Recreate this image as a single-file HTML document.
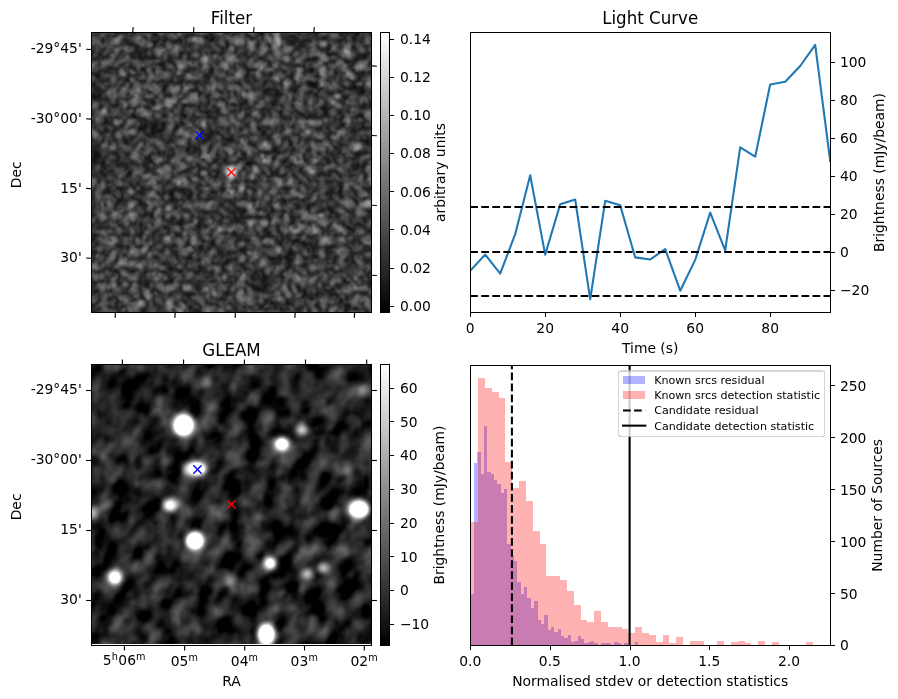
<!DOCTYPE html>
<html><head><meta charset="utf-8"><title>Figure</title>
<style>html,body{margin:0;padding:0;background:#fff;overflow:hidden}svg{display:block;will-change:transform}g[id^="patch"]>path{shape-rendering:crispEdges}</style>
</head><body>
<svg width="898" height="699" viewBox="0 0 646.56 503.28" version="1.1">
 
 <defs>
  <style type="text/css">*{stroke-linejoin: round; stroke-linecap: butt}</style>
 </defs>
 <g id="figure_1">
  <g id="patch_1">
   <path d="M 0 503.28 L 646.56 503.28 L 646.56 0 L 0 0 z
" style="fill: #ffffff"/>
  </g>
  <g id="axes_1">
   <g id="patch_2">
    <path d="M 65.88 225 L 267.48 225 L 267.48 23.4 L 65.88 23.4 z
" style="fill: #ffffff"/>
   </g>
   <g id="IMGFILTER" transform="scale(0.72)"><defs><filter id="fF" x="91.5" y="32.5" width="280" height="280" filterUnits="userSpaceOnUse" primitiveUnits="userSpaceOnUse" color-interpolation-filters="sRGB"><feTurbulence type="turbulence" baseFrequency="0.085" numOctaves="3" seed="7" result="t"/><feTurbulence type="turbulence" baseFrequency="0.11" numOctaves="2" seed="19" result="n"/><feComposite in="t" in2="n" operator="arithmetic" k1="0" k2="0.5" k3="0.5" k4="0"/><feGaussianBlur stdDeviation="1.0"/><feColorMatrix type="matrix" values="1.008 0 0 0 -0.032 1.008 0 0 0 -0.032 1.008 0 0 0 -0.032 0 0 0 0 1"/></filter><filter id="bF" x="-2" y="-2" width="5" height="5"><feGaussianBlur stdDeviation="1.6"/></filter><filter id="bF2" x="-2" y="-2" width="5" height="5"><feGaussianBlur stdDeviation="4"/></filter><clipPath id="cF"><rect x="91.5" y="32.5" width="280" height="280"/></clipPath></defs><g clip-path="url(#cF)"><rect x="91.5" y="32.5" width="280" height="280" fill="#000" filter="url(#fF)"/><ellipse cx="158" cy="129" rx="9" ry="9" fill="#000" fill-opacity="0.55" filter="url(#bF2)"/><ellipse cx="231.3" cy="172" rx="5.5" ry="6" fill="#d4d4d4" filter="url(#bF)"/></g></g>
   <g id="matplotlib.axis_1"/>
   <g id="matplotlib.axis_2"/>
   <g id="patch_3">
    <path d="M 65.88 225 L 65.88 23.4 
" style="fill: none; stroke: #000000; stroke-width: 0.8; stroke-linejoin: miter; stroke-linecap: square"/>
   </g>
   <g id="patch_4">
    <path d="M 267.48 225 L 267.48 23.4 
" style="fill: none; stroke: #000000; stroke-width: 0.8; stroke-linejoin: miter; stroke-linecap: square"/>
   </g>
   <g id="patch_5">
    <path d="M 65.88 225 L 267.48 225 
" style="fill: none; stroke: #000000; stroke-width: 0.8; stroke-linejoin: miter; stroke-linecap: square"/>
   </g>
   <g id="patch_6">
    <path d="M 65.88 23.4 L 267.48 23.4 
" style="fill: none; stroke: #000000; stroke-width: 0.8; stroke-linejoin: miter; stroke-linecap: square"/>
   </g>
   <g id="text_1">
    <text style="font-size: 12px; font-family: 'DejaVu Sans', 'Liberation Sans', sans-serif; text-anchor: middle" x="166.68" y="17.4" transform="translate(166.68 17.4) scale(1 1.07) translate(-166.68 -17.4)">Filter</text>
   </g>
  </g>
  <g id="axes_2">
   <g id="patch_7">
    <path d="M 65.88 464.544 L 267.48 464.544 L 267.48 262.656 L 65.88 262.656 z
" style="fill: #ffffff"/>
   </g>
   <g id="IMGGLEAM" transform="scale(0.72)"><defs><clipPath id="cG"><rect x="91.5" y="364.8" width="280" height="279.1"/></clipPath><filter id="fG" x="21.5" y="295" width="420" height="420" filterUnits="userSpaceOnUse" primitiveUnits="userSpaceOnUse" color-interpolation-filters="sRGB"><feTurbulence type="fractalNoise" baseFrequency="0.045 0.065" numOctaves="3" seed="11"/><feGaussianBlur stdDeviation="1.5"/><feColorMatrix type="matrix" values="1 0 0 0 0 1 0 0 0 0 1 0 0 0 0 0 0 0 0 1"/></filter><filter id="fG2" x="91.5" y="364.8" width="280" height="280" filterUnits="userSpaceOnUse" primitiveUnits="userSpaceOnUse" color-interpolation-filters="sRGB"><feTurbulence type="fractalNoise" baseFrequency="0.05" numOctaves="3" seed="5"/><feGaussianBlur stdDeviation="1.5"/><feColorMatrix type="matrix" values="1 0 0 0 0 1 0 0 0 0 1 0 0 0 0 0 0 0 0 1"/></filter><filter id="mG" x="91.5" y="364.8" width="280" height="280" filterUnits="userSpaceOnUse" color-interpolation-filters="sRGB"><feColorMatrix type="matrix" values="1.1 0 0 0 -0.415 1.1 0 0 0 -0.415 1.1 0 0 0 -0.415 0 0 0 0 1"/></filter><filter id="bG" x="-1" y="-1" width="3" height="3"><feGaussianBlur stdDeviation="3"/><feComponentTransfer><feFuncA type="linear" slope="2"/></feComponentTransfer></filter></defs><g clip-path="url(#cG)"><g filter="url(#mG)"><rect x="21.5" y="295" width="420" height="420" fill="#000" filter="url(#fG)" transform="rotate(-60 231.5 505)"/><rect x="91.5" y="364.8" width="280" height="280" fill="#000" filter="url(#fG2)" opacity="0.4"/></g><ellipse cx="183.6" cy="425.3" rx="9.7" ry="10.3" fill="#fff" fill-opacity="1.00" filter="url(#bG)"/><ellipse cx="302.1" cy="430.1" rx="5.5" ry="4.5" fill="#fff" fill-opacity="0.55" filter="url(#bG)"/><ellipse cx="281.9" cy="444.3" rx="6.6" ry="5.8" fill="#fff" fill-opacity="1.00" filter="url(#bG)"/><ellipse cx="196.5" cy="468.7" rx="9" ry="6" fill="#fff" fill-opacity="1.00" filter="url(#bG)"/><ellipse cx="188.5" cy="469" rx="4.5" ry="4.5" fill="#fff" fill-opacity="0.50" filter="url(#bG)"/><ellipse cx="170" cy="505.2" rx="5.5" ry="4" fill="#fff" fill-opacity="1.00" filter="url(#bG)" transform="rotate(-10 170 505.2)"/><ellipse cx="173" cy="505" rx="8" ry="5" fill="#fff" fill-opacity="0.30" filter="url(#bG)" transform="rotate(-10 173 505)"/><ellipse cx="358.8" cy="509.3" rx="9.6" ry="8" fill="#fff" fill-opacity="1.00" filter="url(#bG)"/><ellipse cx="195" cy="540.8" rx="8.4" ry="8.4" fill="#fff" fill-opacity="1.00" filter="url(#bG)"/><ellipse cx="270.1" cy="563.2" rx="4.8" ry="5.2" fill="#fff" fill-opacity="1.00" filter="url(#bG)"/><ellipse cx="114.8" cy="577.4" rx="6" ry="6" fill="#fff" fill-opacity="1.00" filter="url(#bG)"/><ellipse cx="307.1" cy="574.1" rx="5" ry="4" fill="#fff" fill-opacity="0.55" filter="url(#bG)"/><ellipse cx="323.1" cy="568.1" rx="5" ry="4" fill="#fff" fill-opacity="0.55" filter="url(#bG)"/><ellipse cx="229.8" cy="580.9" rx="4" ry="5" fill="#fff" fill-opacity="0.25" filter="url(#bG)"/><ellipse cx="266.4" cy="634.5" rx="7.6" ry="10.3" fill="#fff" fill-opacity="1.00" filter="url(#bG)"/><ellipse cx="207.2" cy="383" rx="4" ry="5" fill="#fff" fill-opacity="0.30" filter="url(#bG)"/><ellipse cx="253" cy="539" rx="5" ry="5" fill="#fff" fill-opacity="0.20" filter="url(#bG)"/><ellipse cx="92.3" cy="512.7" rx="3" ry="6" fill="#fff" fill-opacity="0.55" filter="url(#bG)"/><ellipse cx="363.2" cy="391" rx="4" ry="4" fill="#fff" fill-opacity="0.25" filter="url(#bG)"/></g></g>
   <g id="matplotlib.axis_3"/>
   <g id="matplotlib.axis_4"/>
   <g id="patch_8">
    <path d="M 65.88 464.544 L 65.88 262.656 
" style="fill: none; stroke: #000000; stroke-width: 0.8; stroke-linejoin: miter; stroke-linecap: square"/>
   </g>
   <g id="patch_9">
    <path d="M 267.48 464.544 L 267.48 262.656 
" style="fill: none; stroke: #000000; stroke-width: 0.8; stroke-linejoin: miter; stroke-linecap: square"/>
   </g>
   <g id="patch_10">
    <path d="M 65.88 464.544 L 267.48 464.544 
" style="fill: none; stroke: #000000; stroke-width: 0.8; stroke-linejoin: miter; stroke-linecap: square"/>
   </g>
   <g id="patch_11">
    <path d="M 65.88 262.656 L 267.48 262.656 
" style="fill: none; stroke: #000000; stroke-width: 0.8; stroke-linejoin: miter; stroke-linecap: square"/>
   </g>
   <g id="text_2">
    <text style="font-size: 12px; font-family: 'DejaVu Sans', 'Liberation Sans', sans-serif; text-anchor: middle" x="166.68" y="256.656" transform="translate(166.68 256.656) scale(1 1.07) translate(-166.68 -256.656)">GLEAM</text>
   </g>
  </g>
  <g id="axes_3">
   <g id="patch_12">
    <path d="M 274.032 225 L 280.44 225 L 280.44 23.4 L 274.032 23.4 z
" style="fill: #ffffff"/>
   </g>
   <g id="CBFILTER" transform="scale(0.72)"><defs><linearGradient id="gF" x1="0" y1="1" x2="0" y2="0"><stop offset="0" stop-color="#000"/><stop offset="1" stop-color="#fff"/></linearGradient></defs><rect x="380.6" y="32.50" width="8.9" height="280.00" fill="url(#gF)"/></g>
   <g id="matplotlib.axis_5"/>
   <g id="matplotlib.axis_6">
    <g id="ytick_1">
     <g id="line2d_1">
      <defs>
       <path id="m33c4ce201d" d="M 0 0 L 3.5 0 
" shape-rendering="crispEdges" style="stroke: #000000; stroke-width: 0.8"/>
      </defs>
      <g>
       <use href="#m33c4ce201d" x="280.44" y="220.6800" style="stroke: #000000; stroke-width: 0.8"/>
      </g>
     </g>
     <g id="text_3">
      <text style="font-size: 10px; font-family: 'DejaVu Sans', 'Liberation Sans', sans-serif; text-anchor: start" x="287.94" y="223.889212" transform="rotate(-0 287.94 223.889212)">0.00</text>
     </g>
    </g>
    <g id="ytick_2">
     <g id="line2d_2">
      <g>
       <use href="#m33c4ce201d" x="280.44" y="193.3200" style="stroke: #000000; stroke-width: 0.8"/>
      </g>
     </g>
     <g id="text_4">
      <text style="font-size: 10px; font-family: 'DejaVu Sans', 'Liberation Sans', sans-serif; text-anchor: start" x="287.94" y="196.428322" transform="rotate(-0 287.94 196.428322)">0.02</text>
     </g>
    </g>
    <g id="ytick_3">
     <g id="line2d_3">
      <g>
       <use href="#m33c4ce201d" x="280.44" y="165.2400" style="stroke: #000000; stroke-width: 0.8"/>
      </g>
     </g>
     <g id="text_5">
      <text style="font-size: 10px; font-family: 'DejaVu Sans', 'Liberation Sans', sans-serif; text-anchor: start" x="287.94" y="168.967433" transform="rotate(-0 287.94 168.967433)">0.04</text>
     </g>
    </g>
    <g id="ytick_4">
     <g id="line2d_4">
      <g>
       <use href="#m33c4ce201d" x="280.44" y="137.8800" style="stroke: #000000; stroke-width: 0.8"/>
      </g>
     </g>
     <g id="text_6">
      <text style="font-size: 10px; font-family: 'DejaVu Sans', 'Liberation Sans', sans-serif; text-anchor: start" x="287.94" y="141.506544" transform="rotate(-0 287.94 141.506544)">0.06</text>
     </g>
    </g>
    <g id="ytick_5">
     <g id="line2d_5">
      <g>
       <use href="#m33c4ce201d" x="280.44" y="110.5200" style="stroke: #000000; stroke-width: 0.8"/>
      </g>
     </g>
     <g id="text_7">
      <text style="font-size: 10px; font-family: 'DejaVu Sans', 'Liberation Sans', sans-serif; text-anchor: start" x="287.94" y="114.045654" transform="rotate(-0 287.94 114.045654)">0.08</text>
     </g>
    </g>
    <g id="ytick_6">
     <g id="line2d_6">
      <g>
       <use href="#m33c4ce201d" x="280.44" y="83.1600" style="stroke: #000000; stroke-width: 0.8"/>
      </g>
     </g>
     <g id="text_8">
      <text style="font-size: 10px; font-family: 'DejaVu Sans', 'Liberation Sans', sans-serif; text-anchor: start" x="287.94" y="86.584765" transform="rotate(-0 287.94 86.584765)">0.10</text>
     </g>
    </g>
    <g id="ytick_7">
     <g id="line2d_7">
      <g>
       <use href="#m33c4ce201d" x="280.44" y="55.8000" style="stroke: #000000; stroke-width: 0.8"/>
      </g>
     </g>
     <g id="text_9">
      <text style="font-size: 10px; font-family: 'DejaVu Sans', 'Liberation Sans', sans-serif; text-anchor: start" x="287.94" y="59.123876" transform="rotate(-0 287.94 59.123876)">0.12</text>
     </g>
    </g>
    <g id="ytick_8">
     <g id="line2d_8">
      <g>
       <use href="#m33c4ce201d" x="280.44" y="28.4400" style="stroke: #000000; stroke-width: 0.8"/>
      </g>
     </g>
     <g id="text_10">
      <text style="font-size: 10px; font-family: 'DejaVu Sans', 'Liberation Sans', sans-serif; text-anchor: start" x="287.94" y="31.662986" transform="rotate(-0 287.94 31.662986)">0.14</text>
     </g>
    </g>
    <g id="text_11">
     <text style="font-size: 10px; font-family: 'DejaVu Sans', 'Liberation Sans', sans-serif; text-anchor: middle" x="320.704063" y="124.2" transform="rotate(-90 320.704063 124.2)">arbitrary units</text>
    </g>
   </g>
   <g id="patch_13">
    <path d="M 274.032 225 L 274.032 23.4 
" style="fill: none; stroke: #000000; stroke-width: 0.8; stroke-linejoin: miter; stroke-linecap: square"/>
   </g>
   <g id="patch_14">
    <path d="M 280.44 225 L 280.44 23.4 
" style="fill: none; stroke: #000000; stroke-width: 0.8; stroke-linejoin: miter; stroke-linecap: square"/>
   </g>
   <g id="patch_15">
    <path d="M 274.032 225 L 280.44 225 
" style="fill: none; stroke: #000000; stroke-width: 0.8; stroke-linejoin: miter; stroke-linecap: square"/>
   </g>
   <g id="patch_16">
    <path d="M 274.032 23.4 L 280.44 23.4 
" style="fill: none; stroke: #000000; stroke-width: 0.8; stroke-linejoin: miter; stroke-linecap: square"/>
   </g>
  </g>
  <g id="axes_4">
   <g id="patch_17">
    <path d="M 274.032 464.544 L 280.44 464.544 L 280.44 262.656 L 274.032 262.656 z
" style="fill: #ffffff"/>
   </g>
   <g id="CBGLEAM" transform="scale(0.72)"><defs><linearGradient id="gG" x1="0" y1="1" x2="0" y2="0"><stop offset="0" stop-color="#000"/><stop offset="1" stop-color="#fff"/></linearGradient></defs><rect x="380.6" y="364.80" width="8.9" height="280.40" fill="url(#gG)"/></g>
   <g id="matplotlib.axis_7"/>
   <g id="matplotlib.axis_8">
    <g id="ytick_9">
     <g id="line2d_9">
      <g>
       <use href="#m33c4ce201d" x="280.44" y="449.6400" style="stroke: #000000; stroke-width: 0.8"/>
      </g>
     </g>
     <g id="text_12">
      <text style="font-size: 10px; font-family: 'DejaVu Sans', 'Liberation Sans', sans-serif; text-anchor: start" x="287.94" y="452.841191" transform="rotate(-0 287.94 452.841191)">−10</text>
     </g>
    </g>
    <g id="ytick_10">
     <g id="line2d_10">
      <g>
       <use href="#m33c4ce201d" x="280.44" y="425.1600" style="stroke: #000000; stroke-width: 0.8"/>
      </g>
     </g>
     <g id="text_13">
      <text style="font-size: 10px; font-family: 'DejaVu Sans', 'Liberation Sans', sans-serif; text-anchor: start" x="287.94" y="428.569972" transform="rotate(-0 287.94 428.569972)">0</text>
     </g>
    </g>
    <g id="ytick_11">
     <g id="line2d_11">
      <g>
       <use href="#m33c4ce201d" x="280.44" y="400.6800" style="stroke: #000000; stroke-width: 0.8"/>
      </g>
     </g>
     <g id="text_14">
      <text style="font-size: 10px; font-family: 'DejaVu Sans', 'Liberation Sans', sans-serif; text-anchor: start" x="287.94" y="404.298753" transform="rotate(-0 287.94 404.298753)">10</text>
     </g>
    </g>
    <g id="ytick_12">
     <g id="line2d_12">
      <g>
       <use href="#m33c4ce201d" x="280.44" y="376.9200" style="stroke: #000000; stroke-width: 0.8"/>
      </g>
     </g>
     <g id="text_15">
      <text style="font-size: 10px; font-family: 'DejaVu Sans', 'Liberation Sans', sans-serif; text-anchor: start" x="287.94" y="380.027534" transform="rotate(-0 287.94 380.027534)">20</text>
     </g>
    </g>
    <g id="ytick_13">
     <g id="line2d_13">
      <g>
       <use href="#m33c4ce201d" x="280.44" y="352.4400" style="stroke: #000000; stroke-width: 0.8"/>
      </g>
     </g>
     <g id="text_16">
      <text style="font-size: 10px; font-family: 'DejaVu Sans', 'Liberation Sans', sans-serif; text-anchor: start" x="287.94" y="355.756315" transform="rotate(-0 287.94 355.756315)">30</text>
     </g>
    </g>
    <g id="ytick_14">
     <g id="line2d_14">
      <g>
       <use href="#m33c4ce201d" x="280.44" y="327.9600" style="stroke: #000000; stroke-width: 0.8"/>
      </g>
     </g>
     <g id="text_17">
      <text style="font-size: 10px; font-family: 'DejaVu Sans', 'Liberation Sans', sans-serif; text-anchor: start" x="287.94" y="331.485096" transform="rotate(-0 287.94 331.485096)">40</text>
     </g>
    </g>
    <g id="ytick_15">
     <g id="line2d_15">
      <g>
       <use href="#m33c4ce201d" x="280.44" y="303.4800" style="stroke: #000000; stroke-width: 0.8"/>
      </g>
     </g>
     <g id="text_18">
      <text style="font-size: 10px; font-family: 'DejaVu Sans', 'Liberation Sans', sans-serif; text-anchor: start" x="287.94" y="307.213877" transform="rotate(-0 287.94 307.213877)">50</text>
     </g>
    </g>
    <g id="ytick_16">
     <g id="line2d_16">
      <g>
       <use href="#m33c4ce201d" x="280.44" y="279.7200" style="stroke: #000000; stroke-width: 0.8"/>
      </g>
     </g>
     <g id="text_19">
      <text style="font-size: 10px; font-family: 'DejaVu Sans', 'Liberation Sans', sans-serif; text-anchor: start" x="287.94" y="282.942658" transform="rotate(-0 287.94 282.942658)">60</text>
     </g>
    </g>
    <g id="text_20">
     <text style="font-size: 10px; font-family: 'DejaVu Sans', 'Liberation Sans', sans-serif; text-anchor: middle" x="319.543125" y="363.6" transform="rotate(-90 319.543125 363.6)">Brightness (mJy/beam)</text>
    </g>
   </g>
   <g id="patch_18">
    <path d="M 274.032 464.544 L 274.032 262.656 
" style="fill: none; stroke: #000000; stroke-width: 0.8; stroke-linejoin: miter; stroke-linecap: square"/>
   </g>
   <g id="patch_19">
    <path d="M 280.44 464.544 L 280.44 262.656 
" style="fill: none; stroke: #000000; stroke-width: 0.8; stroke-linejoin: miter; stroke-linecap: square"/>
   </g>
   <g id="patch_20">
    <path d="M 274.032 464.544 L 280.44 464.544 
" style="fill: none; stroke: #000000; stroke-width: 0.8; stroke-linejoin: miter; stroke-linecap: square"/>
   </g>
   <g id="patch_21">
    <path d="M 274.032 262.656 L 280.44 262.656 
" style="fill: none; stroke: #000000; stroke-width: 0.8; stroke-linejoin: miter; stroke-linecap: square"/>
   </g>
  </g>
  <g id="axes_5">
   <g id="patch_22">
    <path d="M 338.544 225 L 597.744 225 L 597.744 23.4 L 338.544 23.4 z
" style="fill: #ffffff"/>
   </g>
   <g id="matplotlib.axis_9">
    <g id="xtick_1">
     <g id="line2d_17">
      <defs>
       <path id="m1504cfccaf" d="M 0 0 L 0 3.5 
" shape-rendering="crispEdges" style="stroke: #000000; stroke-width: 0.8"/>
      </defs>
      <g>
       <use href="#m1504cfccaf" x="338.7600" y="225" style="stroke: #000000; stroke-width: 0.8"/>
      </g>
     </g>
     <g id="text_21">
      <text style="font-size: 10px; font-family: 'DejaVu Sans', 'Liberation Sans', sans-serif; text-anchor: middle" x="338.544" y="239.598437" transform="rotate(-0 338.544 239.598437)">0</text>
     </g>
    </g>
    <g id="xtick_2">
     <g id="line2d_18">
      <g>
       <use href="#m1504cfccaf" x="392.7600" y="225" style="stroke: #000000; stroke-width: 0.8"/>
      </g>
     </g>
     <g id="text_22">
      <text style="font-size: 10px; font-family: 'DejaVu Sans', 'Liberation Sans', sans-serif; text-anchor: middle" x="392.544" y="239.598437" transform="rotate(-0 392.544 239.598437)">20</text>
     </g>
    </g>
    <g id="xtick_3">
     <g id="line2d_19">
      <g>
       <use href="#m1504cfccaf" x="446.7600" y="225" style="stroke: #000000; stroke-width: 0.8"/>
      </g>
     </g>
     <g id="text_23">
      <text style="font-size: 10px; font-family: 'DejaVu Sans', 'Liberation Sans', sans-serif; text-anchor: middle" x="446.544" y="239.598437" transform="rotate(-0 446.544 239.598437)">40</text>
     </g>
    </g>
    <g id="xtick_4">
     <g id="line2d_20">
      <g>
       <use href="#m1504cfccaf" x="500.7600" y="225" style="stroke: #000000; stroke-width: 0.8"/>
      </g>
     </g>
     <g id="text_24">
      <text style="font-size: 10px; font-family: 'DejaVu Sans', 'Liberation Sans', sans-serif; text-anchor: middle" x="500.544" y="239.598437" transform="rotate(-0 500.544 239.598437)">60</text>
     </g>
    </g>
    <g id="xtick_5">
     <g id="line2d_21">
      <g>
       <use href="#m1504cfccaf" x="554.7600" y="225" style="stroke: #000000; stroke-width: 0.8"/>
      </g>
     </g>
     <g id="text_25">
      <text style="font-size: 10px; font-family: 'DejaVu Sans', 'Liberation Sans', sans-serif; text-anchor: middle" x="554.544" y="239.598437" transform="rotate(-0 554.544 239.598437)">80</text>
     </g>
    </g>
    <g id="text_26">
     <text style="font-size: 10px; font-family: 'DejaVu Sans', 'Liberation Sans', sans-serif; text-anchor: middle" x="468.144" y="254.136563" transform="rotate(-0 468.144 254.136563)">Time (s)</text>
    </g>
   </g>
   <g id="matplotlib.axis_10">
    <g id="ytick_17">
     <g id="line2d_22">
      <g>
       <use href="#m33c4ce201d" x="597.744" y="209.1600" style="stroke: #000000; stroke-width: 0.8"/>
      </g>
     </g>
     <g id="text_27">
      <text style="font-size: 10px; font-family: 'DejaVu Sans', 'Liberation Sans', sans-serif; text-anchor: start" x="604.744" y="212.599219" transform="rotate(-0 604.744 212.599219)">−20</text>
     </g>
    </g>
    <g id="ytick_18">
     <g id="line2d_23">
      <g>
       <use href="#m33c4ce201d" x="597.744" y="181.8000" style="stroke: #000000; stroke-width: 0.8"/>
      </g>
     </g>
     <g id="text_28">
      <text style="font-size: 10px; font-family: 'DejaVu Sans', 'Liberation Sans', sans-serif; text-anchor: start" x="604.744" y="185.239219" transform="rotate(-0 604.744 185.239219)">0</text>
     </g>
    </g>
    <g id="ytick_19">
     <g id="line2d_24">
      <g>
       <use href="#m33c4ce201d" x="597.744" y="154.4400" style="stroke: #000000; stroke-width: 0.8"/>
      </g>
     </g>
     <g id="text_29">
      <text style="font-size: 10px; font-family: 'DejaVu Sans', 'Liberation Sans', sans-serif; text-anchor: start" x="604.744" y="157.879219" transform="rotate(-0 604.744 157.879219)">20</text>
     </g>
    </g>
    <g id="ytick_20">
     <g id="line2d_25">
      <g>
       <use href="#m33c4ce201d" x="597.744" y="127.0800" style="stroke: #000000; stroke-width: 0.8"/>
      </g>
     </g>
     <g id="text_30">
      <text style="font-size: 10px; font-family: 'DejaVu Sans', 'Liberation Sans', sans-serif; text-anchor: start" x="604.744" y="130.519219" transform="rotate(-0 604.744 130.519219)">40</text>
     </g>
    </g>
    <g id="ytick_21">
     <g id="line2d_26">
      <g>
       <use href="#m33c4ce201d" x="597.744" y="99.7200" style="stroke: #000000; stroke-width: 0.8"/>
      </g>
     </g>
     <g id="text_31">
      <text style="font-size: 10px; font-family: 'DejaVu Sans', 'Liberation Sans', sans-serif; text-anchor: start" x="604.744" y="103.159219" transform="rotate(-0 604.744 103.159219)">60</text>
     </g>
    </g>
    <g id="ytick_22">
     <g id="line2d_27">
      <g>
       <use href="#m33c4ce201d" x="597.744" y="72.3600" style="stroke: #000000; stroke-width: 0.8"/>
      </g>
     </g>
     <g id="text_32">
      <text style="font-size: 10px; font-family: 'DejaVu Sans', 'Liberation Sans', sans-serif; text-anchor: start" x="604.744" y="75.799219" transform="rotate(-0 604.744 75.799219)">80</text>
     </g>
    </g>
    <g id="ytick_23">
     <g id="line2d_28">
      <g>
       <use href="#m33c4ce201d" x="597.744" y="45.0000" style="stroke: #000000; stroke-width: 0.8"/>
      </g>
     </g>
     <g id="text_33">
      <text style="font-size: 10px; font-family: 'DejaVu Sans', 'Liberation Sans', sans-serif; text-anchor: start" x="604.744" y="48.439219" transform="rotate(-0 604.744 48.439219)">100</text>
     </g>
    </g>
    <g id="text_34">
     <text style="font-size: 10px; font-family: 'DejaVu Sans', 'Liberation Sans', sans-serif; text-anchor: middle" x="636.147125" y="124.2" transform="rotate(-90 636.147125 124.2)">Brightness (mJy/beam)</text>
    </g>
   </g>
   <g id="line2d_29">
    <path d="M 338.544 195.048 L 349.344 183.312 L 360.144 196.992 L 370.944 168.624 L 381.744 126.144 L 392.544 183.312 L 403.344 147.096 L 414.144 143.64 L 424.944 215.496 L 435.744 144.576 L 446.544 147.744 L 457.344 185.328 L 468.144 186.84 L 478.944 179.352 L 489.744 209.304 L 500.544 187.128 L 511.344 153.072 L 522.144 180.216 L 532.944 106.056 L 543.744 112.752 L 554.544 60.84 L 565.344 58.824 L 576.144 47.52 L 586.944 32.256 L 597.744 115.92 
" clip-path="url(#pd901c1c063)" style="fill: none; stroke: #1f77b4; stroke-width: 1.5; stroke-linecap: square"/>
   </g>
   <g id="line2d_30">
    <path d="M 338.544 149.04 L 597.744 149.04 
" clip-path="url(#pd901c1c063)" style="fill: none; stroke-dasharray: 5.55,2.4; stroke-dashoffset: 0; stroke: #000000; stroke-width: 1.5"/>
   </g>
   <g id="line2d_31">
    <path d="M 338.544 181.44 L 597.744 181.44 
" clip-path="url(#pd901c1c063)" style="fill: none; stroke-dasharray: 5.55,2.4; stroke-dashoffset: 0; stroke: #000000; stroke-width: 1.5"/>
   </g>
   <g id="line2d_32">
    <path d="M 338.544 213.12 L 597.744 213.12 
" clip-path="url(#pd901c1c063)" style="fill: none; stroke-dasharray: 5.55,2.4; stroke-dashoffset: 0; stroke: #000000; stroke-width: 1.5"/>
   </g>
   <g id="patch_23">
    <path d="M 338.544 225 L 338.544 23.4 
" style="fill: none; stroke: #000000; stroke-width: 0.8; stroke-linejoin: miter; stroke-linecap: square"/>
   </g>
   <g id="patch_24">
    <path d="M 597.744 225 L 597.744 23.4 
" style="fill: none; stroke: #000000; stroke-width: 0.8; stroke-linejoin: miter; stroke-linecap: square"/>
   </g>
   <g id="patch_25">
    <path d="M 338.544 225 L 597.744 225 
" style="fill: none; stroke: #000000; stroke-width: 0.8; stroke-linejoin: miter; stroke-linecap: square"/>
   </g>
   <g id="patch_26">
    <path d="M 338.544 23.4 L 597.744 23.4 
" style="fill: none; stroke: #000000; stroke-width: 0.8; stroke-linejoin: miter; stroke-linecap: square"/>
   </g>
   <g id="text_35">
    <text style="font-size: 12px; font-family: 'DejaVu Sans', 'Liberation Sans', sans-serif; text-anchor: middle" x="468.144" y="17.4" transform="translate(468.144 17.4) scale(1 1.07) translate(-468.144 -17.4)">Light Curve</text>
   </g>
  </g>
  <g id="axes_6">
   <g id="patch_27">
    <path d="M 338.544 464.544 L 597.744 464.544 L 597.744 263.16 L 338.544 263.16 z
" style="fill: #ffffff"/>
   </g>
   <g id="patch_28">
    <path d="M 338.832 464.544 L 338.832 427.608 L 341.2404 427.608 L 341.2404 333.432 L 343.6488 333.432 L 343.6488 325.512 L 346.0572 325.512 L 346.0572 341.352 L 348.4656 341.352 L 348.4656 306.792 L 350.874 306.792 L 350.874 339.984 L 353.2824 339.984 L 353.2824 341.28 L 355.6908 341.28 L 355.6908 345.744 L 358.0992 345.744 L 358.0992 348.696 L 360.5076 348.696 L 360.5076 355.032 L 362.916 355.032 L 362.916 352.224 L 365.3244 352.224 L 365.3244 391.752 L 367.7328 391.752 L 367.7328 400.248 L 370.1412 400.248 L 370.1412 403.92 L 372.5496 403.92 L 372.5496 418.968 L 374.958 418.968 L 374.958 427.608 L 377.3664 427.608 L 377.3664 422.784 L 379.7748 422.784 L 379.7748 430.272 L 382.1832 430.272 L 382.1832 437.544 L 384.5916 437.544 L 384.5916 432.792 L 387 432.792 L 387 446.328 L 389.4084 446.328 L 389.4084 449.28 L 391.8168 449.28 L 391.8168 442.728 L 394.2252 442.728 L 394.2252 453.672 L 396.6336 453.672 L 396.6336 451.512 L 399.042 451.512 L 399.042 455.112 L 401.4504 455.112 L 401.4504 453.096 L 403.8588 453.096 L 403.8588 457.992 L 406.2672 457.992 L 406.2672 459.648 L 408.6756 459.648 L 408.6756 457.344 L 411.084 457.344 L 411.084 462.384 L 413.4924 462.384 L 413.4924 461.808 L 415.9008 461.808 L 415.9008 457.992 L 418.3092 457.992 L 418.3092 460.152 L 420.7176 460.152 L 420.7176 462.96 L 423.126 462.96 L 423.126 462.384 L 425.5344 462.384 L 425.5344 461.808 L 427.9428 461.808 L 427.9428 463.176 L 430.3512 463.176 L 430.3512 464.544 L 432.7596 464.544 L 432.7596 463.176 L 435.168 463.176 L 435.168 463.176 L 437.5764 463.176 L 437.5764 463.176 L 439.9848 463.176 L 439.9848 464.544 L 442.3932 464.544 L 442.3932 462.384 L 444.8016 462.384 L 444.8016 463.176 L 447.21 463.176 L 447.21 464.544 L 449.6184 464.544 L 449.6184 463.176 L 452.0268 463.176 L 452.0268 464.544 L 454.4352 464.544 L 454.4352 464.544 L 456.8436 464.544 L 456.8436 462.384 L 459.252 462.384 L 459.252 464.544 L 456.8436 464.544 L 456.8436 464.544 L 454.4352 464.544 L 454.4352 464.544 L 452.0268 464.544 L 452.0268 464.544 L 449.6184 464.544 L 449.6184 464.544 L 447.21 464.544 L 447.21 464.544 L 444.8016 464.544 L 444.8016 464.544 L 442.3932 464.544 L 442.3932 464.544 L 439.9848 464.544 L 439.9848 464.544 L 437.5764 464.544 L 437.5764 464.544 L 435.168 464.544 L 435.168 464.544 L 432.7596 464.544 L 432.7596 464.544 L 430.3512 464.544 L 430.3512 464.544 L 427.9428 464.544 L 427.9428 464.544 L 425.5344 464.544 L 425.5344 464.544 L 423.126 464.544 L 423.126 464.544 L 420.7176 464.544 L 420.7176 464.544 L 418.3092 464.544 L 418.3092 464.544 L 415.9008 464.544 L 415.9008 464.544 L 413.4924 464.544 L 413.4924 464.544 L 411.084 464.544 L 411.084 464.544 L 408.6756 464.544 L 408.6756 464.544 L 406.2672 464.544 L 406.2672 464.544 L 403.8588 464.544 L 403.8588 464.544 L 401.4504 464.544 L 401.4504 464.544 L 399.042 464.544 L 399.042 464.544 L 396.6336 464.544 L 396.6336 464.544 L 394.2252 464.544 L 394.2252 464.544 L 391.8168 464.544 L 391.8168 464.544 L 389.4084 464.544 L 389.4084 464.544 L 387 464.544 L 387 464.544 L 384.5916 464.544 L 384.5916 464.544 L 382.1832 464.544 L 382.1832 464.544 L 379.7748 464.544 L 379.7748 464.544 L 377.3664 464.544 L 377.3664 464.544 L 374.958 464.544 L 374.958 464.544 L 372.5496 464.544 L 372.5496 464.544 L 370.1412 464.544 L 370.1412 464.544 L 367.7328 464.544 L 367.7328 464.544 L 365.3244 464.544 L 365.3244 464.544 L 362.916 464.544 L 362.916 464.544 L 360.5076 464.544 L 360.5076 464.544 L 358.0992 464.544 L 358.0992 464.544 L 355.6908 464.544 L 355.6908 464.544 L 353.2824 464.544 L 353.2824 464.544 L 350.874 464.544 L 350.874 464.544 L 348.4656 464.544 L 348.4656 464.544 L 346.0572 464.544 L 346.0572 464.544 L 343.6488 464.544 L 343.6488 464.544 L 341.2404 464.544 L 341.2404 464.544 z
" clip-path="url(#p239482f845)" style="fill: #0000ff; opacity: 0.3"/>
   </g>
   <g id="patch_29">
    <path d="M 339.264 464.544 L 339.264 375.916608 L 344.1852 375.916608 L 344.1852 272.393856 L 349.1064 272.393856 L 349.1064 279.096768 L 354.0276 279.096768 L 354.0276 282.07584 L 358.9488 282.07584 L 358.9488 286.544448 L 363.87 286.544448 L 363.87 332.720064 L 368.7912 332.720064 L 368.7912 351.339264 L 373.7124 351.339264 L 373.7124 346.125888 L 378.6336 346.125888 L 378.6336 361.021248 L 383.5548 361.021248 L 383.5548 382.61952 L 388.476 382.61952 L 388.476 391.556736 L 393.3972 391.556736 L 393.3972 414.644544 L 398.3184 414.644544 L 398.3184 414.644544 L 403.2396 414.644544 L 403.2396 417.623616 L 408.1608 417.623616 L 408.1608 425.816064 L 413.082 425.816064 L 413.082 435.498048 L 418.0032 435.498048 L 418.0032 446.669568 L 422.9244 446.669568 L 422.9244 448.159104 L 427.8456 448.159104 L 427.8456 439.966656 L 432.7668 439.966656 L 432.7668 448.159104 L 437.688 448.159104 L 437.688 451.138176 L 442.6092 451.138176 L 442.6092 451.138176 L 447.5304 451.138176 L 447.5304 452.627712 L 452.4516 452.627712 L 452.4516 455.606784 L 457.3728 455.606784 L 457.3728 451.138176 L 462.294 451.138176 L 462.294 455.606784 L 467.2152 455.606784 L 467.2152 457.09632 L 472.1364 457.09632 L 472.1364 462.309696 L 477.0576 462.309696 L 477.0576 457.09632 L 481.9788 457.09632 L 481.9788 463.054464 L 486.9 463.054464 L 486.9 458.585856 L 491.8212 458.585856 L 491.8212 464.544 L 496.7424 464.544 L 496.7424 461.564928 L 501.6636 461.564928 L 501.6636 461.564928 L 506.5848 461.564928 L 506.5848 464.544 L 511.506 464.544 L 511.506 464.544 L 516.4272 464.544 L 516.4272 461.564928 L 521.3484 461.564928 L 521.3484 464.544 L 526.2696 464.544 L 526.2696 462.309696 L 531.1908 462.309696 L 531.1908 461.564928 L 536.112 461.564928 L 536.112 463.054464 L 541.0332 463.054464 L 541.0332 464.544 L 545.9544 464.544 L 545.9544 461.564928 L 550.8756 461.564928 L 550.8756 464.544 L 555.7968 464.544 L 555.7968 462.309696 L 560.718 462.309696 L 560.718 464.544 L 565.6392 464.544 L 565.6392 464.544 L 570.5604 464.544 L 570.5604 464.544 L 575.4816 464.544 L 575.4816 464.544 L 580.4028 464.544 L 580.4028 462.309696 L 585.324 462.309696 L 585.324 464.544 L 580.4028 464.544 L 580.4028 464.544 L 575.4816 464.544 L 575.4816 464.544 L 570.5604 464.544 L 570.5604 464.544 L 565.6392 464.544 L 565.6392 464.544 L 560.718 464.544 L 560.718 464.544 L 555.7968 464.544 L 555.7968 464.544 L 550.8756 464.544 L 550.8756 464.544 L 545.9544 464.544 L 545.9544 464.544 L 541.0332 464.544 L 541.0332 464.544 L 536.112 464.544 L 536.112 464.544 L 531.1908 464.544 L 531.1908 464.544 L 526.2696 464.544 L 526.2696 464.544 L 521.3484 464.544 L 521.3484 464.544 L 516.4272 464.544 L 516.4272 464.544 L 511.506 464.544 L 511.506 464.544 L 506.5848 464.544 L 506.5848 464.544 L 501.6636 464.544 L 501.6636 464.544 L 496.7424 464.544 L 496.7424 464.544 L 491.8212 464.544 L 491.8212 464.544 L 486.9 464.544 L 486.9 464.544 L 481.9788 464.544 L 481.9788 464.544 L 477.0576 464.544 L 477.0576 464.544 L 472.1364 464.544 L 472.1364 464.544 L 467.2152 464.544 L 467.2152 464.544 L 462.294 464.544 L 462.294 464.544 L 457.3728 464.544 L 457.3728 464.544 L 452.4516 464.544 L 452.4516 464.544 L 447.5304 464.544 L 447.5304 464.544 L 442.6092 464.544 L 442.6092 464.544 L 437.688 464.544 L 437.688 464.544 L 432.7668 464.544 L 432.7668 464.544 L 427.8456 464.544 L 427.8456 464.544 L 422.9244 464.544 L 422.9244 464.544 L 418.0032 464.544 L 418.0032 464.544 L 413.082 464.544 L 413.082 464.544 L 408.1608 464.544 L 408.1608 464.544 L 403.2396 464.544 L 403.2396 464.544 L 398.3184 464.544 L 398.3184 464.544 L 393.3972 464.544 L 393.3972 464.544 L 388.476 464.544 L 388.476 464.544 L 383.5548 464.544 L 383.5548 464.544 L 378.6336 464.544 L 378.6336 464.544 L 373.7124 464.544 L 373.7124 464.544 L 368.7912 464.544 L 368.7912 464.544 L 363.87 464.544 L 363.87 464.544 L 358.9488 464.544 L 358.9488 464.544 L 354.0276 464.544 L 354.0276 464.544 L 349.1064 464.544 L 349.1064 464.544 L 344.1852 464.544 L 344.1852 464.544 z
" clip-path="url(#p239482f845)" style="fill: #ff0000; opacity: 0.3"/>
   </g>
   <g id="matplotlib.axis_11">
    <g id="xtick_6">
     <g id="line2d_33">
      <g>
       <use href="#m1504cfccaf" x="338.7600" y="464.544" style="stroke: #000000; stroke-width: 0.8"/>
      </g>
     </g>
     <g id="text_36">
      <text style="font-size: 10px; font-family: 'DejaVu Sans', 'Liberation Sans', sans-serif; text-anchor: middle" x="338.544" y="479.862438" transform="rotate(-0 338.544 479.862438)">0.0</text>
     </g>
    </g>
    <g id="xtick_7">
     <g id="line2d_34">
      <g>
       <use href="#m1504cfccaf" x="396.3600" y="464.544" style="stroke: #000000; stroke-width: 0.8"/>
      </g>
     </g>
     <g id="text_37">
      <text style="font-size: 10px; font-family: 'DejaVu Sans', 'Liberation Sans', sans-serif; text-anchor: middle" x="395.928" y="479.862438" transform="rotate(-0 395.928 479.862438)">0.5</text>
     </g>
    </g>
    <g id="xtick_8">
     <g id="line2d_35">
      <g>
       <use href="#m1504cfccaf" x="453.9600" y="464.544" style="stroke: #000000; stroke-width: 0.8"/>
      </g>
     </g>
     <g id="text_38">
      <text style="font-size: 10px; font-family: 'DejaVu Sans', 'Liberation Sans', sans-serif; text-anchor: middle" x="453.312" y="479.862438" transform="rotate(-0 453.312 479.862438)">1.0</text>
     </g>
    </g>
    <g id="xtick_9">
     <g id="line2d_36">
      <g>
       <use href="#m1504cfccaf" x="510.8400" y="464.544" style="stroke: #000000; stroke-width: 0.8"/>
      </g>
     </g>
     <g id="text_39">
      <text style="font-size: 10px; font-family: 'DejaVu Sans', 'Liberation Sans', sans-serif; text-anchor: middle" x="510.696" y="479.862438" transform="rotate(-0 510.696 479.862438)">1.5</text>
     </g>
    </g>
    <g id="xtick_10">
     <g id="line2d_37">
      <g>
       <use href="#m1504cfccaf" x="568.4400" y="464.544" style="stroke: #000000; stroke-width: 0.8"/>
      </g>
     </g>
     <g id="text_40">
      <text style="font-size: 10px; font-family: 'DejaVu Sans', 'Liberation Sans', sans-serif; text-anchor: middle" x="568.08" y="479.862438" transform="rotate(-0 568.08 479.862438)">2.0</text>
     </g>
    </g>
    <g id="text_41">
     <text style="font-size: 10px; font-family: 'DejaVu Sans', 'Liberation Sans', sans-serif; text-anchor: middle" x="468.144" y="494.260563" transform="rotate(-0 468.144 494.260563)">Normalised stdev or detection statistics</text>
    </g>
   </g>
   <g id="matplotlib.axis_12">
    <g id="ytick_24">
     <g id="line2d_38">
      <g>
       <use href="#m33c4ce201d" x="597.744" y="464.7600" style="stroke: #000000; stroke-width: 0.8"/>
      </g>
     </g>
     <g id="text_42">
      <text style="font-size: 10px; font-family: 'DejaVu Sans', 'Liberation Sans', sans-serif; text-anchor: start" x="604.744" y="468.343219" transform="rotate(-0 604.744 468.343219)">0</text>
     </g>
    </g>
    <g id="ytick_25">
     <g id="line2d_39">
      <g>
       <use href="#m33c4ce201d" x="597.744" y="427.3200" style="stroke: #000000; stroke-width: 0.8"/>
      </g>
     </g>
     <g id="text_43">
      <text style="font-size: 10px; font-family: 'DejaVu Sans', 'Liberation Sans', sans-serif; text-anchor: start" x="604.744" y="430.932019" transform="rotate(-0 604.744 430.932019)">50</text>
     </g>
    </g>
    <g id="ytick_26">
     <g id="line2d_40">
      <g>
       <use href="#m33c4ce201d" x="597.744" y="389.8800" style="stroke: #000000; stroke-width: 0.8"/>
      </g>
     </g>
     <g id="text_44">
      <text style="font-size: 10px; font-family: 'DejaVu Sans', 'Liberation Sans', sans-serif; text-anchor: start" x="604.744" y="393.520819" transform="rotate(-0 604.744 393.520819)">100</text>
     </g>
    </g>
    <g id="ytick_27">
     <g id="line2d_41">
      <g>
       <use href="#m33c4ce201d" x="597.744" y="352.4400" style="stroke: #000000; stroke-width: 0.8"/>
      </g>
     </g>
     <g id="text_45">
      <text style="font-size: 10px; font-family: 'DejaVu Sans', 'Liberation Sans', sans-serif; text-anchor: start" x="604.744" y="356.109619" transform="rotate(-0 604.744 356.109619)">150</text>
     </g>
    </g>
    <g id="ytick_28">
     <g id="line2d_42">
      <g>
       <use href="#m33c4ce201d" x="597.744" y="315.0000" style="stroke: #000000; stroke-width: 0.8"/>
      </g>
     </g>
     <g id="text_46">
      <text style="font-size: 10px; font-family: 'DejaVu Sans', 'Liberation Sans', sans-serif; text-anchor: start" x="604.744" y="318.698419" transform="rotate(-0 604.744 318.698419)">200</text>
     </g>
    </g>
    <g id="ytick_29">
     <g id="line2d_43">
      <g>
       <use href="#m33c4ce201d" x="597.744" y="277.5600" style="stroke: #000000; stroke-width: 0.8"/>
      </g>
     </g>
     <g id="text_47">
      <text style="font-size: 10px; font-family: 'DejaVu Sans', 'Liberation Sans', sans-serif; text-anchor: start" x="604.744" y="281.287219" transform="rotate(-0 604.744 281.287219)">250</text>
     </g>
    </g>
    <g id="text_48">
     <text style="font-size: 10px; font-family: 'DejaVu Sans', 'Liberation Sans', sans-serif; text-anchor: middle" x="634.709938" y="363.852" transform="rotate(-90 634.709938 363.852)">Number of Sources</text>
    </g>
   </g>
   <g id="line2d_44">
    <path d="M 368.568 464.544 L 368.568 263.16 
" clip-path="url(#p239482f845)" style="fill: none; stroke-dasharray: 5.55,2.4; stroke-dashoffset: 0; stroke: #000000; stroke-width: 1.5"/>
   </g>
   <g id="line2d_45">
    <path d="M 453.312 464.544 L 453.312 263.16 
" clip-path="url(#p239482f845)" style="fill: none; stroke: #000000; stroke-width: 1.5; stroke-linecap: square"/>
   </g>
   <g id="patch_30">
    <path d="M 338.544 464.544 L 338.544 263.16 
" style="fill: none; stroke: #000000; stroke-width: 0.8; stroke-linejoin: miter; stroke-linecap: square"/>
   </g>
   <g id="patch_31">
    <path d="M 597.744 464.544 L 597.744 263.16 
" style="fill: none; stroke: #000000; stroke-width: 0.8; stroke-linejoin: miter; stroke-linecap: square"/>
   </g>
   <g id="patch_32">
    <path d="M 338.544 464.544 L 597.744 464.544 
" style="fill: none; stroke: #000000; stroke-width: 0.8; stroke-linejoin: miter; stroke-linecap: square"/>
   </g>
   <g id="patch_33">
    <path d="M 338.544 263.16 L 597.744 263.16 
" style="fill: none; stroke: #000000; stroke-width: 0.8; stroke-linejoin: miter; stroke-linecap: square"/>
   </g>
   <g id="legend_1">
    <g id="patch_34">
     <path d="M 446.97775 314.13 L 592.144 314.13 
Q 593.744 314.13 593.744 312.53 L 593.744 268.76 
Q 593.744 267.16 592.144 267.16 L 446.97775 267.16 
Q 445.37775 267.16 445.37775 268.76 L 445.37775 312.53 
Q 445.37775 314.13 446.97775 314.13 z
" style="fill: #ffffff; opacity: 0.8; stroke: #cccccc; stroke-linejoin: miter"/>
    </g>
    <g id="patch_35">
     <path d="M 448.57775 276.43875 L 464.57775 276.43875 L 464.57775 270.83875 L 448.57775 270.83875 z
" style="fill: #0000ff; opacity: 0.3"/>
    </g>
    <g id="text_49">
     <text style="font-size: 8px; font-family: 'DejaVu Sans', 'Liberation Sans', sans-serif; text-anchor: start" x="470.97775" y="276.43875" transform="rotate(-0 470.97775 276.43875)">Known srcs residual</text>
    </g>
    <g id="patch_36">
     <path d="M 448.57775 287.38125 L 464.57775 287.38125 L 464.57775 281.78125 L 448.57775 281.78125 z
" style="fill: #ff0000; opacity: 0.3"/>
    </g>
    <g id="text_50">
     <text style="font-size: 8px; font-family: 'DejaVu Sans', 'Liberation Sans', sans-serif; text-anchor: start" x="470.97775" y="287.38125" transform="rotate(-0 470.97775 287.38125)">Known srcs detection statistic</text>
    </g>
    <g id="line2d_46">
     <path d="M 448.57775 295.52375 L 456.57775 295.52375 L 464.57775 295.52375 
" style="fill: none; stroke-dasharray: 5.55,2.4; stroke-dashoffset: 0; stroke: #000000; stroke-width: 1.5"/>
    </g>
    <g id="text_51">
     <text style="font-size: 8px; font-family: 'DejaVu Sans', 'Liberation Sans', sans-serif; text-anchor: start" x="470.97775" y="298.32375" transform="rotate(-0 470.97775 298.32375)">Candidate residual</text>
    </g>
    <g id="line2d_47">
     <path d="M 448.57775 306.46625 L 456.57775 306.46625 L 464.57775 306.46625 
" style="fill: none; stroke: #000000; stroke-width: 1.5; stroke-linecap: square"/>
    </g>
    <g id="text_52">
     <text style="font-size: 8px; font-family: 'DejaVu Sans', 'Liberation Sans', sans-serif; text-anchor: start" x="470.97775" y="309.26625" transform="rotate(-0 470.97775 309.26625)">Candidate detection statistic</text>
    </g>
   </g>
  </g>
  <g id="line2d_48">
   <path d="M 65.88 35.64 L 61.998652 35.412664 
" style="fill: none; stroke: #000000; stroke-width: 0.8"/>
  </g>
  <g id="line2d_49">
   <path d="M 65.88 85.752 L 61.998652 85.524664 
" style="fill: none; stroke: #000000; stroke-width: 0.8"/>
  </g>
  <g id="line2d_50">
   <path d="M 65.88 135.864 L 61.998652 135.636664 
" style="fill: none; stroke: #000000; stroke-width: 0.8"/>
  </g>
  <g id="line2d_51">
   <path d="M 65.88 185.976 L 61.998652 185.748664 
" style="fill: none; stroke: #000000; stroke-width: 0.8"/>
  </g>
  <g id="line2d_52">
   <path d="M 267.48 47.448 L 271.361348 47.675336 
" style="fill: none; stroke: #000000; stroke-width: 0.8"/>
  </g>
  <g id="line2d_53">
   <path d="M 267.48 97.56 L 271.361348 97.787336 
" style="fill: none; stroke: #000000; stroke-width: 0.8"/>
  </g>
  <g id="line2d_54">
   <path d="M 267.48 147.744 L 271.361348 147.971336 
" style="fill: none; stroke: #000000; stroke-width: 0.8"/>
  </g>
  <g id="line2d_55">
   <path d="M 267.48 198.144 L 271.361348 198.371336 
" style="fill: none; stroke: #000000; stroke-width: 0.8"/>
  </g>
  <g id="line2d_56">
   <path d="M 95.616 23.4 L 95.857146 19.519486 
" style="fill: none; stroke: #000000; stroke-width: 0.8"/>
  </g>
  <g id="line2d_57">
   <path d="M 139.392 23.4 L 139.633146 19.519486 
" style="fill: none; stroke: #000000; stroke-width: 0.8"/>
  </g>
  <g id="line2d_58">
   <path d="M 182.664 23.4 L 182.905146 19.519486 
" style="fill: none; stroke: #000000; stroke-width: 0.8"/>
  </g>
  <g id="line2d_59">
   <path d="M 226.008 23.4 L 226.249146 19.519486 
" style="fill: none; stroke: #000000; stroke-width: 0.8"/>
  </g>
  <g id="line2d_60">
   <path d="M 83.088 225 L 82.846854 228.880514 
" style="fill: none; stroke: #000000; stroke-width: 0.8"/>
  </g>
  <g id="line2d_61">
   <path d="M 126.144 225 L 125.902854 228.880514 
" style="fill: none; stroke: #000000; stroke-width: 0.8"/>
  </g>
  <g id="line2d_62">
   <path d="M 169.488 225 L 169.246854 228.880514 
" style="fill: none; stroke: #000000; stroke-width: 0.8"/>
  </g>
  <g id="line2d_63">
   <path d="M 212.544 225 L 212.302854 228.880514 
" style="fill: none; stroke: #000000; stroke-width: 0.8"/>
  </g>
  <g id="line2d_64">
   <path d="M 255.312 225 L 255.070854 228.880514 
" style="fill: none; stroke: #000000; stroke-width: 0.8"/>
  </g>
  <g id="line2d_65">
   <path d="M 65.88 281.16 L 61.992 281.16 
" style="fill: none; stroke: #000000; stroke-width: 0.8"/>
  </g>
  <g id="line2d_66">
   <path d="M 65.88 331.56 L 61.992 331.56 
" style="fill: none; stroke: #000000; stroke-width: 0.8"/>
  </g>
  <g id="line2d_67">
   <path d="M 65.88 381.96 L 61.992 381.96 
" style="fill: none; stroke: #000000; stroke-width: 0.8"/>
  </g>
  <g id="line2d_68">
   <path d="M 65.88 432.36 L 61.992 432.36 
" style="fill: none; stroke: #000000; stroke-width: 0.8"/>
  </g>
  <g id="line2d_69">
   <path d="M 267.48 281.16 L 271.368 281.16 
" style="fill: none; stroke: #000000; stroke-width: 0.8"/>
  </g>
  <g id="line2d_70">
   <path d="M 267.48 331.56 L 271.368 331.56 
" style="fill: none; stroke: #000000; stroke-width: 0.8"/>
  </g>
  <g id="line2d_71">
   <path d="M 267.48 381.96 L 271.368 381.96 
" style="fill: none; stroke: #000000; stroke-width: 0.8"/>
  </g>
  <g id="line2d_72">
   <path d="M 267.48 432.36 L 271.368 432.36 
" style="fill: none; stroke: #000000; stroke-width: 0.8"/>
  </g>
  <g id="line2d_73">
   <path d="M 88.128 262.656 L 88.100229 258.768099 
" style="fill: none; stroke: #000000; stroke-width: 0.8"/>
  </g>
  <g id="line2d_74">
   <path d="M 132.192 262.656 L 132.164229 258.768099 
" style="fill: none; stroke: #000000; stroke-width: 0.8"/>
  </g>
  <g id="line2d_75">
   <path d="M 175.968 262.656 L 175.940229 258.768099 
" style="fill: none; stroke: #000000; stroke-width: 0.8"/>
  </g>
  <g id="line2d_76">
   <path d="M 219.96 262.656 L 219.932229 258.768099 
" style="fill: none; stroke: #000000; stroke-width: 0.8"/>
  </g>
  <g id="line2d_77">
   <path d="M 264.024 262.656 L 263.996229 258.768099 
" style="fill: none; stroke: #000000; stroke-width: 0.8"/>
  </g>
  <g id="line2d_78">
   <path d="M 89.568 464.544 L 89.595771 468.431901 
" style="fill: none; stroke: #000000; stroke-width: 0.8"/>
  </g>
  <g id="line2d_79">
   <path d="M 132.912 464.544 L 132.939771 468.431901 
" style="fill: none; stroke: #000000; stroke-width: 0.8"/>
  </g>
  <g id="line2d_80">
   <path d="M 176.184 464.544 L 176.211771 468.431901 
" style="fill: none; stroke: #000000; stroke-width: 0.8"/>
  </g>
  <g id="line2d_81">
   <path d="M 219.24 464.544 L 219.267771 468.431901 
" style="fill: none; stroke: #000000; stroke-width: 0.8"/>
  </g>
  <g id="line2d_82">
   <path d="M 262.296 464.544 L 262.323771 468.431901 
" style="fill: none; stroke: #000000; stroke-width: 0.8"/>
  </g>
  <g id="text_53">
   <text style="font-size: 10px; font-family: 'DejaVu Sans', 'Liberation Sans', sans-serif; text-anchor: end" x="58.8528" y="38.399375" transform="rotate(-0 58.8528 38.399375)">-29°45'</text>
  </g>
  <g id="text_54">
   <text style="font-size: 10px; font-family: 'DejaVu Sans', 'Liberation Sans', sans-serif; text-anchor: end" x="58.8528" y="88.511375" transform="rotate(-0 58.8528 88.511375)">-30°00'</text>
  </g>
  <g id="text_55">
   <text style="font-size: 10px; font-family: 'DejaVu Sans', 'Liberation Sans', sans-serif; text-anchor: end" x="58.8528" y="138.623375" transform="rotate(-0 58.8528 138.623375)">15'</text>
  </g>
  <g id="text_56">
   <text style="font-size: 10px; font-family: 'DejaVu Sans', 'Liberation Sans', sans-serif; text-anchor: end" x="58.8528" y="188.735375" transform="rotate(-0 58.8528 188.735375)">30'</text>
  </g>
  <g id="text_57">
   <text style="font-size: 10px; font-family: 'DejaVu Sans', 'Liberation Sans', sans-serif; text-anchor: end" x="58.8528" y="283.559375" transform="rotate(-0 58.8528 283.559375)">-29°45'</text>
  </g>
  <g id="text_58">
   <text style="font-size: 10px; font-family: 'DejaVu Sans', 'Liberation Sans', sans-serif; text-anchor: end" x="58.8528" y="333.959375" transform="rotate(-0 58.8528 333.959375)">-30°00'</text>
  </g>
  <g id="text_59">
   <text style="font-size: 10px; font-family: 'DejaVu Sans', 'Liberation Sans', sans-serif; text-anchor: end" x="58.8528" y="384.359375" transform="rotate(-0 58.8528 384.359375)">15'</text>
  </g>
  <g id="text_60">
   <text style="font-size: 10px; font-family: 'DejaVu Sans', 'Liberation Sans', sans-serif; text-anchor: end" x="58.8528" y="434.759375" transform="rotate(-0 58.8528 434.759375)">30'</text>
  </g>
  <g id="text_61">
   <!-- $5^\mathrm{h}06^\mathrm{m}$ -->
   <g transform="translate(74.018 479.889638)">
    <text>
     <tspan x="0" y="-0.85625" style="font-size: 10px; font-family: 'DejaVu Sans', 'Liberation Sans', sans-serif">5</tspan>
     <tspan x="11.167969" y="-0.85625" style="font-size: 10px; font-family: 'DejaVu Sans', 'Liberation Sans', sans-serif">0</tspan>
     <tspan x="17.530273" y="-0.85625" style="font-size: 10px; font-family: 'DejaVu Sans', 'Liberation Sans', sans-serif">6</tspan>
     <tspan x="6.458008" y="-4.684375" style="font-size: 7px; font-family: 'DejaVu Sans', 'Liberation Sans', sans-serif">h</tspan>
     <tspan x="23.988281" y="-4.684375" style="font-size: 7px; font-family: 'DejaVu Sans', 'Liberation Sans', sans-serif">m</tspan>
    </text>
   </g>
  </g>
  <g id="text_62">
   <!-- $05^\mathrm{m}$ -->
   <g transform="translate(122.912 479.889638)">
    <text>
     <tspan x="0" y="-0.25625" style="font-size: 10px; font-family: 'DejaVu Sans', 'Liberation Sans', sans-serif">0</tspan>
     <tspan x="6.362305" y="-0.25625" style="font-size: 10px; font-family: 'DejaVu Sans', 'Liberation Sans', sans-serif">5</tspan>
     <tspan x="12.820312" y="-4.084375" style="font-size: 7px; font-family: 'DejaVu Sans', 'Liberation Sans', sans-serif">m</tspan>
    </text>
   </g>
  </g>
  <g id="text_63">
   <!-- $04^\mathrm{m}$ -->
   <g transform="translate(166.184 479.889638)">
    <text>
     <tspan x="0" y="-0.25625" style="font-size: 10px; font-family: 'DejaVu Sans', 'Liberation Sans', sans-serif">0</tspan>
     <tspan x="6.362305" y="-0.25625" style="font-size: 10px; font-family: 'DejaVu Sans', 'Liberation Sans', sans-serif">4</tspan>
     <tspan x="12.820312" y="-4.084375" style="font-size: 7px; font-family: 'DejaVu Sans', 'Liberation Sans', sans-serif">m</tspan>
    </text>
   </g>
  </g>
  <g id="text_64">
   <!-- $03^\mathrm{m}$ -->
   <g transform="translate(209.24 479.889638)">
    <text>
     <tspan x="0" y="-0.25625" style="font-size: 10px; font-family: 'DejaVu Sans', 'Liberation Sans', sans-serif">0</tspan>
     <tspan x="6.362305" y="-0.25625" style="font-size: 10px; font-family: 'DejaVu Sans', 'Liberation Sans', sans-serif">3</tspan>
     <tspan x="12.820312" y="-4.084375" style="font-size: 7px; font-family: 'DejaVu Sans', 'Liberation Sans', sans-serif">m</tspan>
    </text>
   </g>
  </g>
  <g id="text_65">
   <!-- $02^\mathrm{m}$ -->
   <g transform="translate(252.296 479.889638)">
    <text>
     <tspan x="0" y="-0.25625" style="font-size: 10px; font-family: 'DejaVu Sans', 'Liberation Sans', sans-serif">0</tspan>
     <tspan x="6.362305" y="-0.25625" style="font-size: 10px; font-family: 'DejaVu Sans', 'Liberation Sans', sans-serif">2</tspan>
     <tspan x="12.820312" y="-4.084375" style="font-size: 7px; font-family: 'DejaVu Sans', 'Liberation Sans', sans-serif">m</tspan>
    </text>
   </g>
  </g>
  <g id="text_66">
   <text style="font-size: 10px; font-family: 'DejaVu Sans', 'Liberation Sans', sans-serif" transform="translate(15.431375 135.459781) rotate(-90)">Dec</text>
  </g>
  <g id="text_67">
   <text style="font-size: 10px; font-family: 'DejaVu Sans', 'Liberation Sans', sans-serif" transform="translate(15.431375 374.643781) rotate(-90)">Dec</text>
  </g>
  <g id="text_68">
   <text style="font-size: 10px; font-family: 'DejaVu Sans', 'Liberation Sans', sans-serif; text-anchor: middle" x="166.68" y="493.799375" transform="rotate(-0 166.68 493.799375)">RA</text>
  </g>
  <g id="line2d_83">
   <defs>
    <path id="m171cb65ff8" d="M -3 3 L 3 -3 M -3 -3 L 3 3 
" style="stroke: #0000ff"/>
   </defs>
   <g>
    <use href="#m171cb65ff8" x="143.568" y="97.416" style="fill: #0000ff; stroke: #0000ff"/>
   </g>
  </g>
  <g id="line2d_84">
   <defs>
    <path id="m9a7feaacb2" d="M -3 3 L 3 -3 M -3 -3 L 3 3 
" style="stroke: #ff0000"/>
   </defs>
   <g>
    <use href="#m9a7feaacb2" x="166.536" y="124.056" style="fill: #ff0000; stroke: #ff0000"/>
   </g>
  </g>
  <g id="line2d_85">
   <g>
    <use href="#m171cb65ff8" x="142.2" y="338.04" style="fill: #0000ff; stroke: #0000ff"/>
   </g>
  </g>
  <g id="line2d_86">
   <g>
    <use href="#m9a7feaacb2" x="166.608" y="363.168" style="fill: #ff0000; stroke: #ff0000"/>
   </g>
  </g>
 </g>
 <defs>
  <clipPath id="p59b7ebf312">
   <rect x="65.88" y="23.4" width="201.6" height="201.6"/>
  </clipPath>
  <clipPath id="p1fd0d3ce7a">
   <rect x="65.88" y="262.656" width="201.6" height="201.888"/>
  </clipPath>
  <clipPath id="p8bb70a57ca">
   <rect x="274.032" y="23.4" width="6.408" height="201.6"/>
  </clipPath>
  <clipPath id="pff91b2a8e9">
   <rect x="274.032" y="262.656" width="6.408" height="201.888"/>
  </clipPath>
  <clipPath id="pd901c1c063">
   <rect x="338.544" y="23.4" width="259.2" height="201.6"/>
  </clipPath>
  <clipPath id="p239482f845">
   <rect x="338.544" y="263.16" width="259.2" height="201.384"/>
  </clipPath>
 </defs>
</svg>

</body></html>
